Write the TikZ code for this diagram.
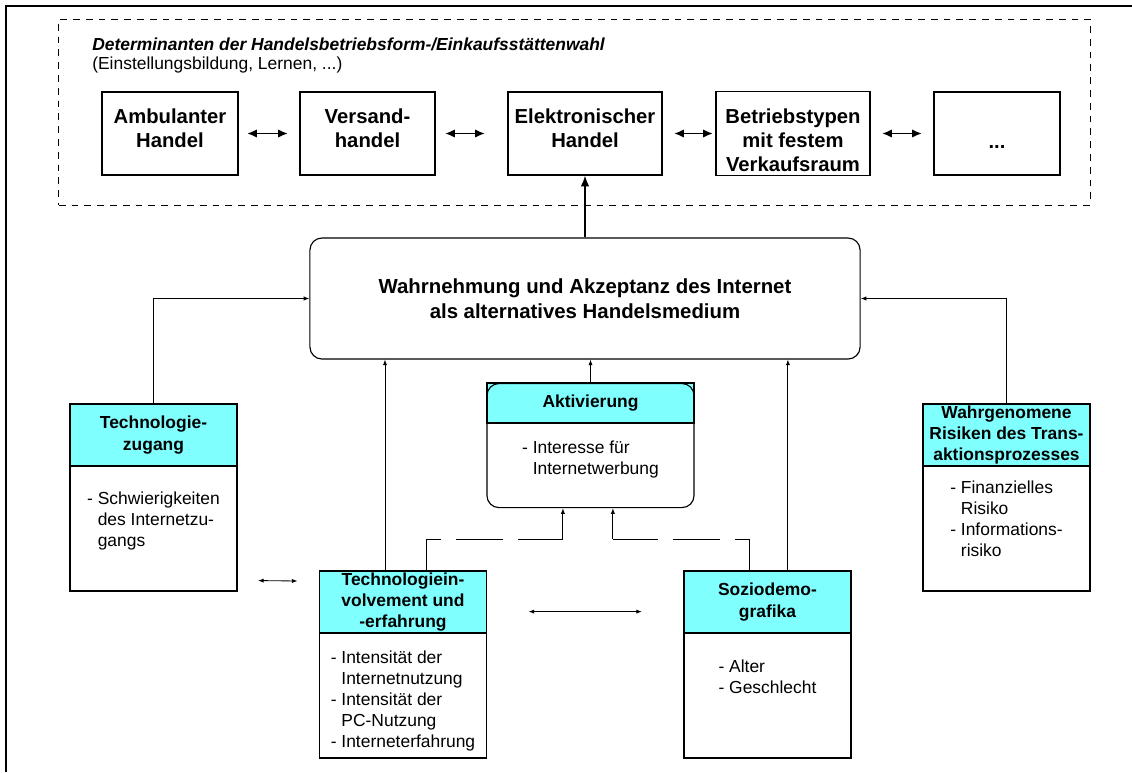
\documentclass[tikz,border=0pt]{standalone}
\usepackage{fontspec}
\setmainfont{Liberation Sans}
\usetikzlibrary{positioning,arrows.meta}

\definecolor{kopfcyan}{HTML}{80FFFF}
\newcommand{\einr}{\hphantom{-\ }}

\tikzset{
	rahmen/.style={draw, line width=0.6pt, dash pattern=on 0.17cm off 0.15cm, minimum width=25.775cm, minimum height=4.65cm},
	form/.style={draw, line width=0.8pt, minimum width=3.4cm, minimum height=2.075cm, align=center,
		font=\fontsize{14.4}{17}\selectfont\bfseries, text depth=8pt, outer sep=0pt},
	wahrbox/.style={draw, line width=0.8pt, rounded corners=0.3cm, minimum width=13.75cm, minimum height=3.025cm,
		align=center, font=\fontsize{14.5}{17.8}\selectfont\bfseries},
	kopf/.style={draw, line width=0.8pt, fill=kopfcyan, anchor=north, minimum width=4.175cm, minimum height=1.55cm,
		inner sep=1pt, align=center, font=\fontsize{12.4}{15}\selectfont\bfseries, outer sep=0pt},
	koerper/.style={draw, line width=0.8pt, fill=white, minimum width=4.175cm, minimum height=3.125cm,
		align=left, font=\fontsize{12.4}{15}\selectfont, outer sep=0pt},
	doppel/.style={{Latex[length=7pt,width=6pt]}-{Latex[length=7pt,width=6pt]}, line width=1.4pt},
	dick/.style={-{Latex[length=8pt,width=6pt]}, line width=1.5pt},
	pfeil/.style={-{Latex[length=4pt,width=3pt]}, line width=0.6pt},
	duenn/.style={{Latex[length=4pt,width=3pt]}-{Latex[length=4pt,width=3pt]}, line width=0.6pt},
	strich/.style={line width=0.6pt, dash pattern=on 1.175cm off 0.375cm}
}

\begin{document}
\begin{tikzpicture}[x=0.025cm, y=-0.025cm]
	\useasboundingbox (0,0) rectangle (1132,772);
	\draw[line width=1.8pt] (6,772) -- (6,6) -- (1132,6);

	% Betriebsformen
	\node[rahmen] (det) at (574.5,112) {};
	\node[anchor=north west, inner sep=0pt, align=left, font=\fontsize{12.4}{13.5}\selectfont] (dettitel) at (92,37.5)
		{\textbf{\textit{Determinanten der Handelsbetriebsform-/Einkaufsstättenwahl}}\\(Einstellungsbildung, Lernen, ...)};
	\node[form] (amb) at (170,133.5) {Ambulanter\\Handel};
	\node[form, minimum width=3.375cm] (vers) at (367.5,133.5) {Versand-\\handel};
	\node[form, minimum width=3.85cm] (elek) at (585,133.5) {Elektronischer\\Handel};
	\node[form, minimum width=3.85cm, text height=53.4pt, text depth=0pt] (betr) at (793,133.5) {Betriebstypen\\mit festem\\Verkaufsraum};
	\node[form, minimum width=3.15cm, text height=22pt, text depth=0pt] (weitere) at (997,133.5) {...};
	\draw[doppel, shorten <=0.225cm, shorten >=0.3cm] (amb.east) -- (vers.west);
	\draw[doppel, shorten <=0.25cm, shorten >=0.575cm] (vers.east) -- (elek.west);
	\draw[doppel, shorten <=0.3cm, shorten >=0.075cm] (elek.east) -- (betr.west);
	\draw[doppel, shorten <=0.3cm, shorten >=0.3cm] (betr.east) -- (weitere.west);

	% Wahrnehmung
	\node[wahrbox] (wahr) at (585,298.5) {Wahrnehmung und Akzeptanz des Internet\\als alternatives Handelsmedium};
	\draw[dick] (wahr.north) -- (elek.south);

	% Einflussfaktoren
	\node[kopf] (tzhead) at (153.5,404) {Technologie-\\zugang};
	\node[koerper, below=0pt of tzhead, text depth=13.5pt] (tzbody)
		{- Schwierigkeiten\\\einr des Internetzu-\\\einr gangs};
	\node[kopf] (tihead) at (403,571) {Technologiein-\\volvement und\\-erfahrung};
	\node[koerper, below=0pt of tihead, text height=76.7pt, text depth=2.6pt] (tibody)
		{- Intensität der\\\einr Internetnutzung\\- Intensität der\\\einr PC-Nutzung\\- Interneterfahrung};
	\node[kopf] (sdhead) at (767.5,571) {Soziodemo-\\grafika};
	\node[koerper, below=0pt of sdhead, text depth=27.1pt] (sdbody) {- Alter\\- Geschlecht};
	\node[kopf] (wrhead) at (1006.5,404) {Wahrgenomene\\Risiken des Trans-\\aktionsprozesses};
	\node[koerper, below=0pt of wrhead, text depth=14.1pt] (wrbody)
		{- Finanzielles\\\einr Risiko\\- Informations-\\\einr risiko};
	\node[kopf, minimum width=5.175cm, minimum height=1cm] (akhead) at (590.5,383) {Aktivierung};
	\node[draw, line width=0.8pt, rounded corners=0.3cm, anchor=north, minimum width=5.175cm, minimum height=3.1cm,
		align=left, font=\fontsize{12.4}{15}\selectfont, text height=44.4pt] (akt) at (akhead.north)
		{- Interesse für\\\einr Internetwerbung};

	\coordinate (tiup) at ([xshift=-0.45cm]tihead.north);
	\coordinate (sdup) at ([xshift=0.51cm]sdhead.north);
	\coordinate (tidash) at ([xshift=0.575cm]tihead.north);
	\coordinate (sddash) at ([xshift=-0.44cm]sdhead.north);
	\coordinate (tiak) at ([shift={(-0.69cm,-0.775cm)}]akt.south);
	\coordinate (sdak) at ([shift={(0.56cm,-0.775cm)}]akt.south);

	\draw[pfeil] (tzhead.north) |- (wahr.west);
	\draw[pfeil] (wrhead.north) |- (wahr.east);
	\draw[pfeil] (tiup) -- (tiup |- wahr.south);
	\draw[pfeil] (sdup) -- (sdup |- wahr.south);
	\draw[pfeil] (akt.north) -- (akt.north |- wahr.south);
	\draw[strich] (tidash) |- (tiak);
	\draw[pfeil] (tiak) -- (tiak |- akt.south);
	\draw[strich] (sddash) |- (sdak);
	\draw[pfeil] (sdak) -- (sdak |- akt.south);
	\draw[duenn] ([shift={(0.525cm,-1.3cm)}]tzbody.east) -- ([shift={(-0.55cm,0.525cm)}]tihead.west);
	\draw[duenn] ([shift={(1.05cm,-0.24cm)}]tihead.east) -- ([shift={(-1.05cm,-0.24cm)}]sdhead.west);
\end{tikzpicture}
\end{document}
